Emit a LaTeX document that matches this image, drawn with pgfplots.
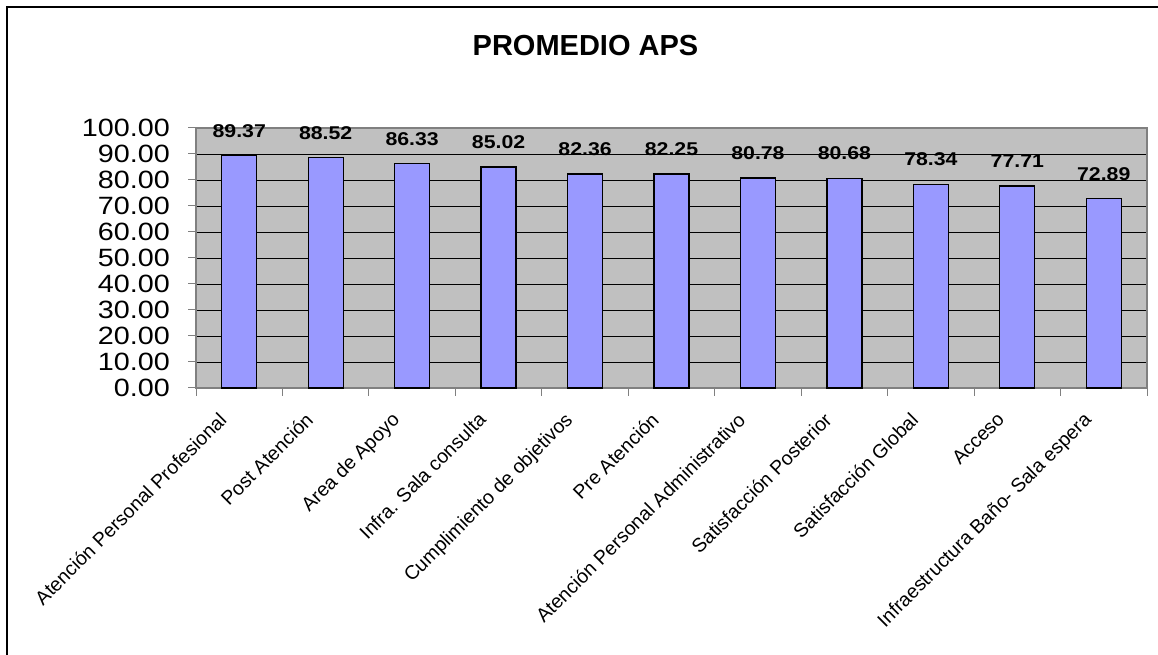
\documentclass[border=0pt]{standalone}
\usepackage{fontspec}
\setmainfont{Liberation Sans}
\newfontfamily\tickfont[FakeStretch=1.15]{Liberation Sans}
\newfontfamily\barfont[FakeStretch=1.15]{Liberation Sans Bold}
\usepackage{pgfplots}
\pgfplotsset{compat=1.18}
\definecolor{plotgray}{HTML}{C0C0C0}
\definecolor{barblue}{HTML}{9999FF}
\definecolor{axgray}{HTML}{808080}
\begin{document}
\begin{tikzpicture}[x=1pt,y=1pt]
\path[use as bounding box] (0,0) rectangle (1158,655);
\draw[line width=2pt] (7,-5) -- (7,648) -- (1170,648);
\node[font={\fontsize{29}{32}\selectfont\bfseries}, anchor=base] at (585.5,599) {PROMEDIO APS};
\begin{axis}[
  at={(196pt,267pt)}, anchor=south west,
  scale only axis, width=951pt, height=260pt,
  xmin=-0.5, xmax=10.5, ymin=0, ymax=100,
  ytick={0,10,...,100},
  xtick={-0.5,0.5,...,10.5},
  xticklabels={},
  xtick pos=bottom, ytick pos=left,
  extra x ticks={0,1,...,10},
  extra x tick labels={Atención Personal Profesional, Post Atención, Area de Apoyo, Infra. Sala consulta, Cumplimiento de objetivos, Pre Atención, Atención Personal Administrativo, Satisfacción Posterior, Satisfacción Global, Acceso, Infraestructura Baño- Sala espera},
  extra x tick style={major tick length=0pt, grid=none,
    xticklabel style={font={\fontsize{19.5}{21}\selectfont}, rotate=45, anchor=north east, inner sep=0pt, xshift=-31.5pt, yshift=-1pt}},
  axis background/.style={fill=plotgray},
  axis line style={draw=axgray, line width=1.2pt},
  ymajorgrids, grid style={black, line width=0.9pt},
  tick style={draw=axgray, line width=1pt},
  tick align=outside,
  major tick length=8pt,
  yticklabel style={font={\tickfont\fontsize{25}{26}\selectfont}, inner sep=0pt, xshift=-18pt},
  /pgf/number format/.cd, fixed, fixed zerofill, precision=2, assume math mode=true,
  /pgfplots/.cd,
  ybar, bar width=35pt,
  nodes near coords,
  every node near coord/.append style={font={\barfont\fontsize{18.5}{20}\selectfont}, anchor=south, inner sep=0pt, yshift=17.5pt, black},
  clip=false,
]
\addplot[fill=barblue, draw=black, line width=1.3pt] coordinates {
(0,89.37) (1,88.52) (2,86.33) (3,85.02) (4,82.36) (5,82.25) (6,80.78) (7,80.68) (8,78.34) (9,77.71) (10,72.89)};
\end{axis}
\end{tikzpicture}
\end{document}
